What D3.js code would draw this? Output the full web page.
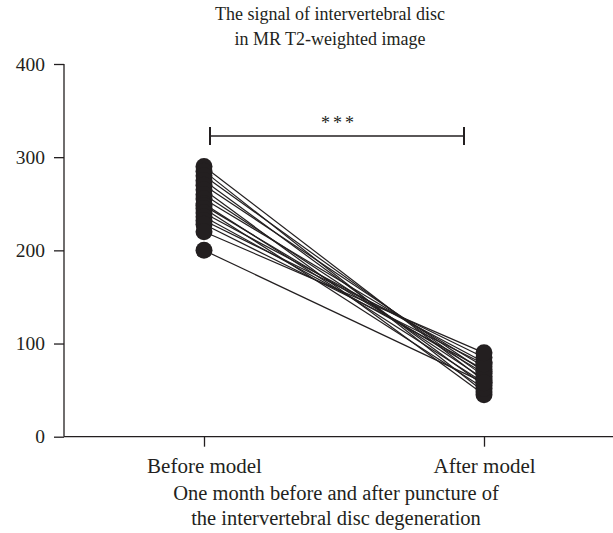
<!DOCTYPE html>
<html>
<head>
<meta charset="utf-8">
<script src="https://cdn.jsdelivr.net/npm/d3@7"></script>
<style>
  body { margin: 0; background: #fff; }
  svg text { font-family: "Liberation Serif", "DejaVu Serif", serif; fill: #231f20; }
</style>
</head>
<body>
<svg id="chart" width="613" height="533"></svg>
<script>
var groups = ['Before model', 'After model']
var beforeValues = [290, 285, 280, 275, 270, 265, 260, 255, 250, 248, 245, 240, 236, 232, 228, 220, 200]
var afterValues = [60, 48, 65, 55, 70, 45, 62, 75, 58, 68, 52, 80, 72, 85, 78, 90, 58]
var yTicks = [0, 100, 200, 300, 400]
var titleLines = ['The signal of intervertebral disc', 'in MR T2-weighted image']
var xTitleLines = ['One month before and after puncture of', 'the intervertebral disc degeneration']

var svg = d3.select('#chart')
  , ink = '#231f20'

var x = d3.scalePoint().domain(groups).range([64, 624]).padding(0.5)
var y = d3.scaleLinear().domain([0, 400]).range([436.7, 64])

// axes
var yAxis = svg.append('g')
  .attr('transform', 'translate(64,0)')
  .call(d3.axisLeft(y).tickValues(yTicks).tickSize(10).tickPadding(9))
var xAxis = svg.append('g')
  .attr('transform', 'translate(0,' + y(0) + ')')
  .call(d3.axisBottom(x).tickSize(10).tickPadding(11))

;[yAxis, xAxis].forEach(function(ax) {
  ax.select('.domain').attr('stroke', ink).attr('stroke-width', 1.3)
  ax.selectAll('.tick line').attr('stroke', ink).attr('stroke-width', 1.3)
  ax.selectAll('.tick text').style('fill', ink).style('font-family', '"Liberation Serif", serif')
})
yAxis.selectAll('.tick text').attr('font-size', 19.5)
xAxis.selectAll('.tick text').attr('font-size', 21)
// keep the domains as plain lines
yAxis.select('.domain').attr('d', 'M0,' + y(400) + 'V' + y(0))
xAxis.select('.domain').attr('d', 'M64,0H613')

// paired lines
var pairs = beforeValues.map(function(b, i) { return [b, afterValues[i]] })
svg.append('g').selectAll('line')
  .data(pairs)
  .enter().append('line')
  .attr('x1', x(groups[0]))
  .attr('y1', function(d) { return y(d[0]) })
  .attr('x2', x(groups[1]))
  .attr('y2', function(d) { return y(d[1]) })
  .attr('stroke', ink)
  .attr('stroke-width', 1.2)

// points
var pts = svg.append('g')
pts.selectAll('circle.before')
  .data(beforeValues)
  .enter().append('circle')
  .attr('cx', x(groups[0]))
  .attr('cy', function(d) { return y(d) })
  .attr('r', 8.5)
  .attr('fill', ink)
pts.selectAll('circle.after')
  .data(afterValues)
  .enter().append('circle')
  .attr('cx', x(groups[1]))
  .attr('cy', function(d) { return y(d) })
  .attr('r', 8.5)
  .attr('fill', ink)

// significance bracket
var bx1 = x(groups[0]) + 6
  , bx2 = x(groups[1]) - 20
  , by = 136
var br = svg.append('g').attr('stroke', ink).attr('stroke-width', 1.3)
br.append('line').attr('x1', bx1).attr('x2', bx2).attr('y1', by).attr('y2', by)
br.append('line').attr('x1', bx1).attr('x2', bx1).attr('y1', by - 9).attr('y2', by + 9).attr('stroke-width', 2)
br.append('line').attr('x1', bx2).attr('x2', bx2).attr('y1', by - 9).attr('y2', by + 9).attr('stroke-width', 2)
svg.append('text')
  .attr('x', (bx1 + bx2) / 2 + 2)
  .attr('y', 129)
  .attr('text-anchor', 'middle')
  .attr('font-size', 18)
  .attr('letter-spacing', 3)
  .text('***')

// titles
svg.append('g').selectAll('text')
  .data(titleLines)
  .enter().append('text')
  .attr('x', 330)
  .attr('y', function(d, i) { return 20 + i * 25 })
  .attr('text-anchor', 'middle')
  .attr('font-size', 18)
  .text(function(d) { return d })

svg.append('g').selectAll('text')
  .data(xTitleLines)
  .enter().append('text')
  .attr('x', 336)
  .attr('y', function(d, i) { return 500 + i * 25 })
  .attr('text-anchor', 'middle')
  .attr('font-size', 20.5)
  .text(function(d) { return d })
</script>
</body>
</html>
